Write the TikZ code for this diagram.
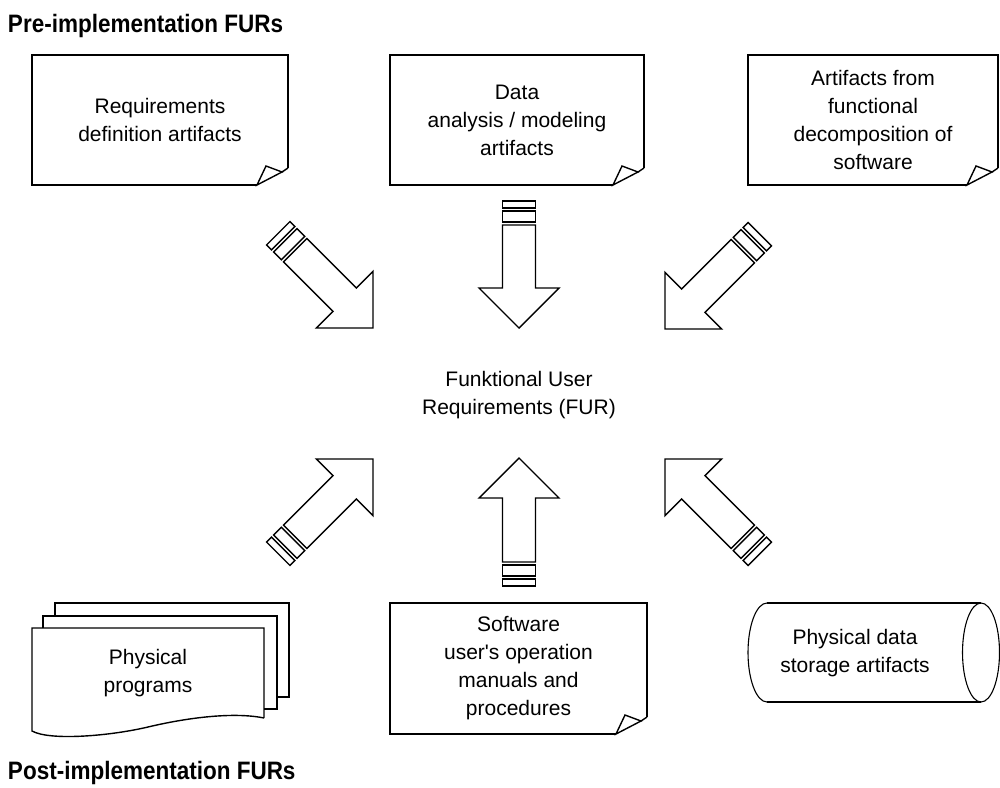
\documentclass[tikz,border=0pt]{standalone}
\usepackage{fontspec}
\setmainfont{Liberation Sans}[Ligatures=TeXOff]
\usetikzlibrary{calc}

\tikzset{
  x=1pt, y=-1pt,
  every node/.style={inner sep=0pt, outer sep=0pt},
  txt/.style={align=center, font=\fontsize{21}{28}\selectfont},
  heading/.style={anchor=base west, font=\fontsize{22.5}{28}\selectfont\bfseries},
  outline/.style={draw=black, line width=1.4pt, line join=miter},
  fine/.style={draw=black, line width=1.1pt},
  note/.style={txt, minimum width=#1},
  % block arrow pointing along local +x, tip at the origin, total length #1
  pics/blockarrow/.style={code={
    \pgfmathsetmacro\shaftend{-#1+24}
    \pgfmathsetmacro\bandAin{-#1+21}
    \pgfmathsetmacro\bandAout{-#1+10}
    \pgfmathsetmacro\bandBin{-#1+7}
    \draw[outline] (0,0) -- (-40,40) -- (-40,16.5) -- (\shaftend,16.5)
      -- (\shaftend,-16.5) -- (-40,-16.5) -- (-40,-40) -- cycle;
    \draw[outline] (\bandAin,16.5) rectangle (\bandAout,-16.5);
    \draw[outline] (\bandBin,16.5) rectangle (-#1,-16.5);
  }}
}

% note outline with a curled bottom-right corner around node #1
\newcommand\notepaper[1]{%
  \draw[outline] ($(#1.south east)+(0,-17)$) -- (#1.north east) -- (#1.north west)
    -- (#1.south west) -- ($(#1.south east)+(-31,0)$);
  \draw[outline] ($(#1.south east)+(-31,0)$) -- ($(#1.south east)+(-22,-19)$)
    -- ($(#1.south east)+(-6,-13)$) -- cycle;
  \draw[outline] ($(#1.south east)+(0,-17)$) -- ($(#1.south east)+(-6,-13)$);
}

\begin{document}
\begin{tikzpicture}
\useasboundingbox (0,0) rectangle (1000,787);

% headings
\node[heading] (pre) at (8,32) {\scalebox{1}[1.12]{Pre-implementation FURs}};
\node[heading] (post) at (8,779) {\scalebox{1}[1.12]{Post-implementation FURs}};

% pre-implementation artifacts
\node[note=256, minimum height=130] (req) at (160,120) {Requirements\\definition artifacts};
\notepaper{req}
\node[note=254, minimum height=130] (data) at (517,120) {Data\\analysis / modeling\\artifacts};
\notepaper{data}
\node[note=250, minimum height=130] (func) at (873,120) {Artifacts from\\functional\\decomposition of\\software};
\notepaper{func}

% centre
\node[txt] (fur) at (519,395) {Funktional User\\Requirements (FUR)};

% post-implementation artifacts
\node[note=257, minimum height=131] (manual) at (518.5,668.5) {Software\\user's operation\\manuals and\\procedures};
\notepaper{manual}

\node[txt] (prog) at (148,673.5) {Physical\\programs};
\draw[outline] (55,616) -- (55,603) -- (289,603) -- (289,697) -- (277,697);
\draw[outline] (43,628) -- (43,616) -- (277,616) -- (277,709) -- (264,709);
\draw[outline] (264,718) -- (264,628) -- (32,628) -- (32,731)
  .. controls (50,741) and (110,736) .. (148,727)
  .. controls (190,717) and (235,712) .. (264,718);

\node[txt] (store) at (855,653.5) {Physical data\\storage artifacts};
\draw[fine] (767,603) -- (981,603) (767,702) -- (981,702);
\draw[fine] (767,603) arc[start angle=270, end angle=90, x radius=19, y radius=49.5];
\draw[fine] (981,652.5) ellipse[x radius=18.5, y radius=49.5];

% block arrows towards the FUR
\pic[shift={(519,328)}, rotate=-90] {blockarrow=127};
\pic[shift={(519,458)}, rotate=90] {blockarrow=128};
\pic[shift={(373,328)}, rotate=-45] {blockarrow=134};
\pic[shift={(665,329)}, rotate=-135] {blockarrow=134};
\pic[shift={(373,459)}, rotate=45] {blockarrow=134};
\pic[shift={(665,459)}, rotate=135] {blockarrow=134};
\end{tikzpicture}
\end{document}
